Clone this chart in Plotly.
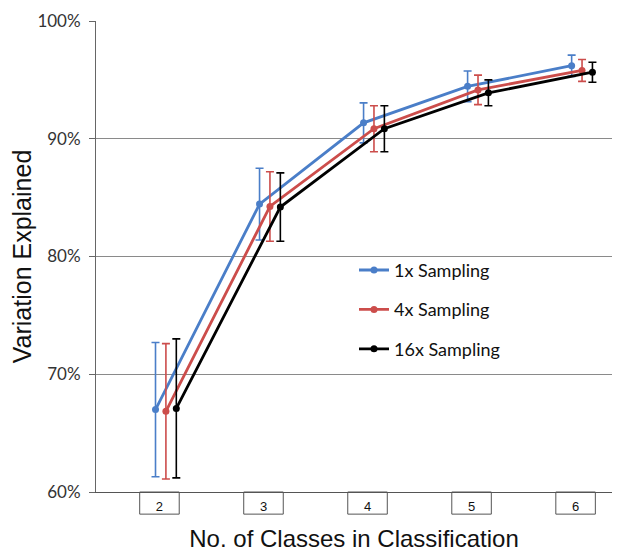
import plotly.graph_objects as go

categories = [2, 3, 4, 5, 6]
tick_labels = ["2", "3", "4", "5", "6"]
series_names = ["1x Sampling", "4x Sampling", "16x Sampling"]
blue_vals = [67.0, 84.45, 91.35, 94.45, 96.2]
blue_err = [5.7, 3.05, 1.7, 1.3, 0.9]
red_vals = [66.85, 84.25, 90.85, 94.15, 95.8]
red_err = [5.75, 2.95, 1.95, 1.25, 0.93]
black_vals = [67.1, 84.2, 90.85, 93.9, 95.65]
black_err = [5.9, 2.9, 1.95, 1.1, 0.85]
y_ticks = [60, 70, 80, 90, 100]
y_tick_labels = ["60%", "70%", "80%", "90%", "100%"]

colors = ["#4A7EC8", "#CC4D4B", "#000000"]
offsets = [-0.038, 0.062, 0.162]
all_vals = [blue_vals, red_vals, black_vals]
all_errs = [blue_err, red_err, black_err]

fig = go.Figure()
for i, (name, vals, errs) in enumerate(zip(series_names, all_vals, all_errs)):
    fig.add_trace(go.Scatter(
        x=[c + offsets[i] for c in categories],
        y=vals,
        mode="lines+markers",
        name=name,
        legendgroup=name,
        line=dict(color=colors[i], width=2.8),
        marker=dict(color=colors[i], size=7),
        error_y=dict(type="data", array=errs, visible=True,
                     color=colors[i], thickness=1.6, width=4),
    ))

# boxes around category labels
for c in categories:
    fig.add_shape(type="rect", xref="x", yref="paper",
                  x0=c - 0.19, x1=c + 0.19, y0=0, y1=-0.047,
                  line=dict(color="#555555", width=1), fillcolor="white",
                  layer="below")

fig.update_layout(
    width=618, height=544,
    margin=dict(l=88, r=14, t=13, b=60),
    plot_bgcolor="white", paper_bgcolor="white",
    showlegend=True,
    legend=dict(x=0.50, y=0.51, xanchor="left", yanchor="top",
                bgcolor="rgba(0,0,0,0)", tracegroupgap=13,
                font=dict(family="Lato", size=18, color="#111111"),
                itemwidth=30),
    xaxis=dict(range=[1.39, 6.35], tickvals=categories, ticktext=tick_labels,
               automargin=False,
               showgrid=False, zeroline=False, showline=True,
               linecolor="#555555", linewidth=1, ticks="",
               tickfont=dict(family="Liberation Sans", size=13, color="#111111"),
               ticklabelstandoff=2,
               title=dict(text="No. of Classes in Classification",
                          font=dict(family="Liberation Sans", size=24, color="#111111"),
                          standoff=21)),
    yaxis=dict(range=[60, 100], tickvals=y_ticks, ticktext=y_tick_labels,
               automargin=False,
               showgrid=True, gridcolor="#8a8a8a", gridwidth=1,
               zeroline=False, showline=True, linecolor="#666666", linewidth=1,
               ticks="outside", ticklen=6, tickcolor="#666666",
               ticklabelstandoff=5,
               tickfont=dict(family="Lato", size=17, color="#333333"),
               title=dict(text="Variation Explained",
                          font=dict(family="Liberation Sans", size=25, color="#111111"),
                          standoff=1)),
)

fig.write_html("out.html")
